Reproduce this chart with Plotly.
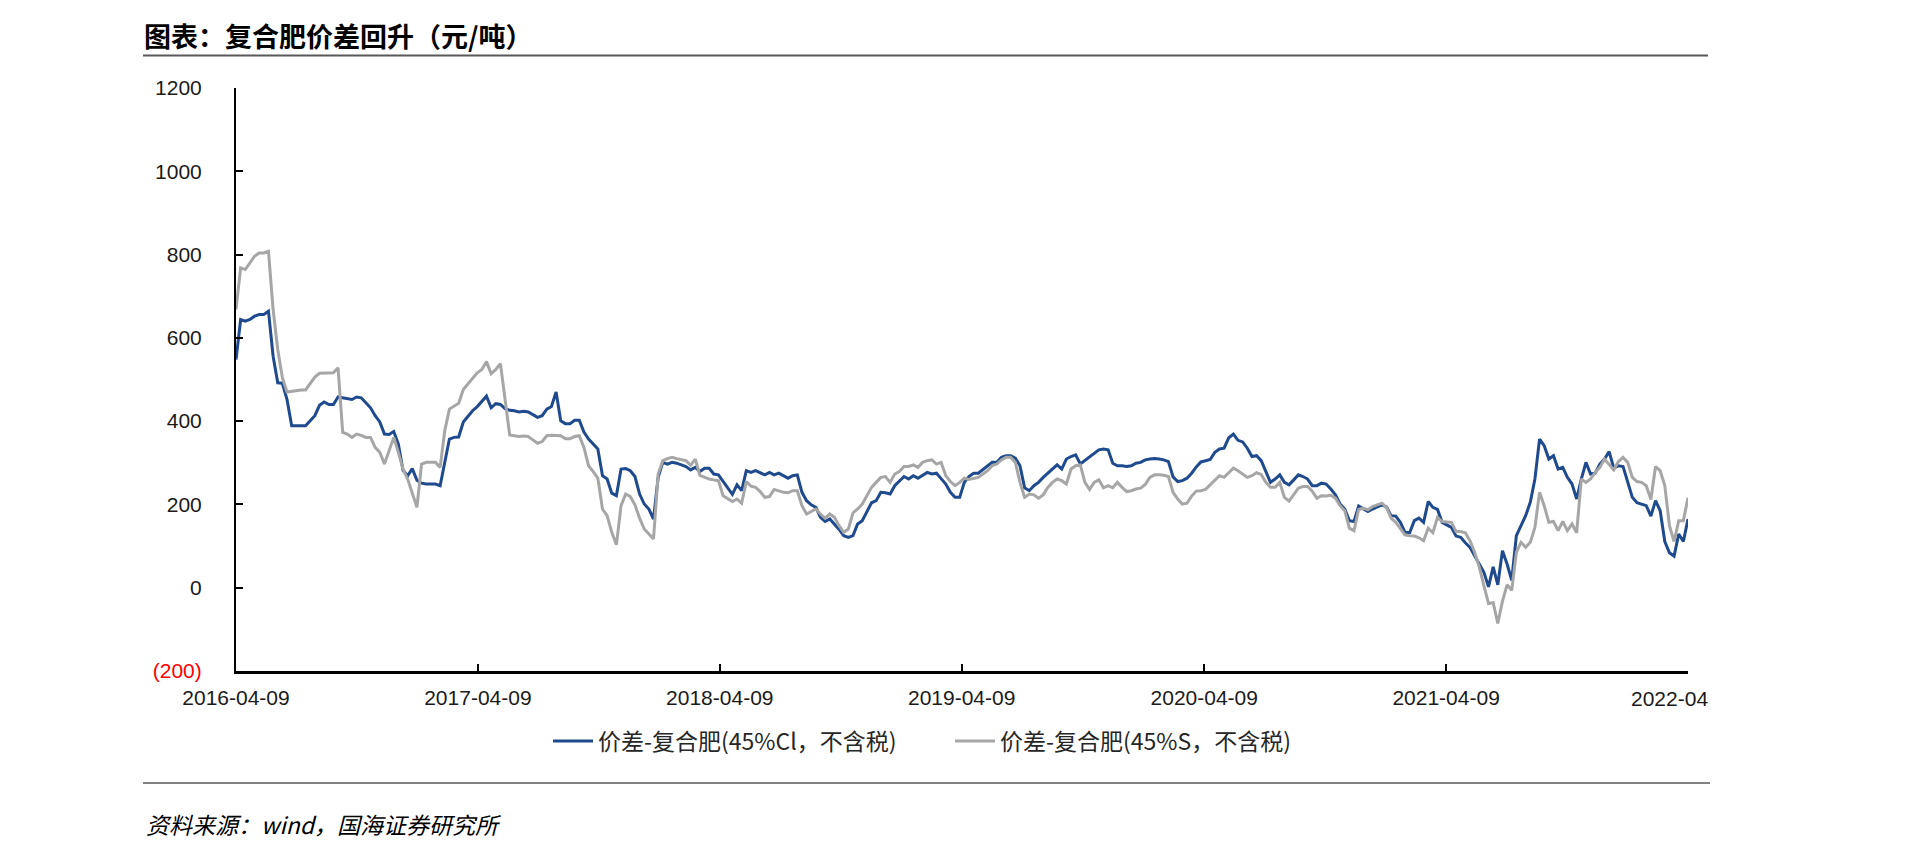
import pandas as pd
import plotly.graph_objects as go

# Weekly observations starting 2016-04-09 (314 weeks, ending 2022-04-09)
start_date = "2016-04-09"

spread_cl = [
    548, 644, 640, 644, 652, 656, 656, 664, 556, 492,
    491, 452, 389, 389, 389, 389, 401, 413, 438, 446,
    440, 440, 458, 456, 454, 452, 458, 456, 444, 432,
    413, 398, 369, 368, 375, 345, 282, 269, 286, 258,
    251, 249, 249, 249, 245, 301, 357, 361, 362, 398,
    411, 425, 435, 447, 460, 432, 442, 440, 430, 426,
    425, 422, 424, 422, 416, 409, 413, 429, 435, 470,
    401, 394, 394, 402, 402, 374, 357, 345, 333, 269,
    261, 227, 221, 285, 286, 281, 267, 225, 201, 189,
    165, 265, 301, 297, 301, 299, 295, 291, 283, 289,
    279, 287, 287, 273, 271, 255, 237, 224, 247, 233,
    281, 277, 281, 275, 271, 277, 271, 275, 269, 263,
    269, 271, 229, 209, 199, 193, 169, 159, 165, 153,
    140, 125, 121, 125, 153, 161, 183, 204, 209, 229,
    228, 225, 245, 255, 267, 261, 269, 263, 269, 277,
    273, 275, 262, 249, 229, 217, 217, 253, 267, 275,
    275, 283, 291, 301, 301, 313, 317, 317, 311, 293,
    240, 233, 245, 253, 265, 275, 285, 295, 285, 309,
    315, 319, 297, 305, 315, 323, 331, 333, 331, 299,
    293, 293, 291, 293, 299, 301, 307, 309, 310, 309,
    307, 303, 266, 255, 257, 263, 275, 290, 302, 305,
    308, 325, 333, 335, 360, 369, 354, 350, 335, 315,
    317, 305, 281, 253, 261, 271, 253, 247, 259, 271,
    267, 261, 245, 245, 251, 249, 237, 223, 201, 189,
    161, 159, 196, 189, 183, 189, 194, 199, 194, 173,
    172, 157, 133, 132, 161, 167, 157, 207, 193, 188,
    157, 151, 145, 124, 121, 108, 97, 77, 57, 37,
    2, 50, 7, 89, 57, 18, 125, 149, 173, 205,
    261, 357, 341, 309, 317, 285, 289, 265, 249, 213,
    261, 301, 273, 275, 297, 309, 327, 287, 293, 291,
    253, 217, 204, 201, 197, 172, 209, 185, 111, 84,
    76, 129, 111, 165,
]

spread_s = [
    668, 768, 764, 780, 796, 804, 804, 808, 668, 572,
    504, 470, 472, 474, 475, 475, 490, 506, 515, 515,
    516, 516, 528, 373, 369, 361, 369, 366, 361, 361,
    337, 325, 297, 329, 361, 325, 285, 261, 229, 193,
    297, 301, 301, 301, 289, 377, 429, 437, 443, 476,
    490, 504, 516, 524, 543, 514, 524, 538, 452, 367,
    365, 363, 364, 363, 355, 347, 351, 365, 366, 366,
    365, 358, 358, 363, 365, 337, 293, 279, 263, 189,
    173, 133, 103, 197, 225, 219, 199, 167, 141, 129,
    117, 273, 305, 310, 313, 310, 307, 305, 294, 309,
    270, 265, 261, 259, 257, 221, 213, 207, 213, 203,
    255, 244, 241, 231, 217, 219, 236, 233, 229, 228,
    233, 233, 197, 177, 183, 189, 177, 167, 177, 169,
    149, 133, 141, 180, 189, 201, 221, 241, 253, 265,
    267, 253, 273, 279, 291, 291, 295, 289, 301, 305,
    307, 297, 301, 269, 255, 245, 253, 263, 260, 263,
    265, 273, 281, 293, 297, 307, 313, 313, 301, 253,
    217, 225, 223, 215, 223, 241, 253, 261, 257, 249,
    285, 293, 295, 253, 236, 253, 259, 240, 245, 240,
    253, 241, 231, 233, 237, 239, 248, 265, 271, 271,
    270, 267, 229, 213, 201, 203, 220, 232, 233, 236,
    247, 260, 269, 265, 277, 287, 281, 273, 265, 269,
    276, 272, 253, 241, 241, 253, 217, 208, 225, 239,
    243, 243, 232, 215, 221, 220, 222, 215, 197, 185,
    143, 137, 188, 191, 187, 195, 199, 203, 193, 167,
    157, 141, 127, 125, 124, 120, 113, 143, 132, 169,
    159, 158, 157, 135, 135, 132, 113, 85, 50, 5,
    -38, -36, -86, -33, 7, -6, 85, 109, 97, 109,
    145, 229, 197, 157, 159, 137, 159, 137, 153, 132,
    261, 253, 261, 277, 289, 309, 296, 283, 303, 313,
    301, 265, 255, 253, 245, 212, 291, 281, 245, 149,
    111, 161, 161, 216,
]

name_cl = "价差-复合肥(45%Cl，不含税)"
name_s = "价差-复合肥(45%S，不含税)"

x_tick_dates = ["2016-04-09", "2017-04-09", "2018-04-09", "2019-04-09",
                "2020-04-09", "2021-04-09", "2022-04-09"]
x_tick_text = ["2016-04-09", "2017-04-09", "2018-04-09", "2019-04-09",
               "2020-04-09", "2021-04-09", ""]
last_tick_label = "2022-04"

y_tick_vals = [-200, 0, 200, 400, 600, 800, 1000, 1200]
y_tick_text = ['<span style="color:#FF0000">(200)</span>', "0", "200", "400",
               "600", "800", "1000", "1200"]

title_text = "图表：复合肥价差回升（元/吨）"
source_text = "资料来源：wind，国海证券研究所"

dates = pd.date_range(start=start_date, periods=len(spread_cl), freq="7D")

W, H = 1920, 857
L, R, T, B = 236, 232, 88, 186
PW, PH = W - L - R, H - T - B


def px_x(p):
    return (p - L) / PW


def px_y(p):
    return (H - B - p) / PH


fig = go.Figure()
fig.add_trace(go.Scatter(x=dates, y=spread_cl, mode="lines", name=name_cl,
                         line=dict(color="#1F4A8E", width=3)))
fig.add_trace(go.Scatter(x=dates, y=spread_s, mode="lines", name=name_s,
                         line=dict(color="#A6A6A6", width=3)))

tick_font = dict(family="Liberation Sans, Arial, sans-serif", size=21, color="#1a1a1a")

fig.update_layout(
    width=W, height=H,
    margin=dict(l=L, r=R, t=T, b=B, pad=0),
    paper_bgcolor="white", plot_bgcolor="white",
    showlegend=True,
    legend=dict(orientation="h", x=px_x(548), y=px_y(741), xanchor="left", yanchor="middle",
                font=dict(family="Noto Sans CJK SC", size=23, color="#262626"),
                entrywidth=347, entrywidthmode="pixels", itemwidth=40,
                bgcolor="rgba(0,0,0,0)"),
    xaxis=dict(type="date", range=[dates[0], pd.Timestamp("2022-04-09")],
               tickmode="array", tickvals=x_tick_dates, ticktext=x_tick_text,
               ticks="inside", ticklen=7, tickwidth=2, tickcolor="#000",
               showline=True, linecolor="#000", linewidth=2.5,
               showgrid=False, zeroline=False, tickfont=tick_font,
               ticklabelstandoff=6),
    yaxis=dict(range=[-200, 1200], tickmode="array", tickvals=y_tick_vals,
               ticktext=y_tick_text, ticks="inside", ticklen=7, tickwidth=1.5,
               tickcolor="#000", showline=True, linecolor="#000", linewidth=2,
               showgrid=False, zeroline=False, tickfont=tick_font,
               ticklabelstandoff=28),
)

fig.add_annotation(x="2022-04-09", y=px_y(698), xref="x", yref="paper",
                   text=last_tick_label, showarrow=False, xanchor="right",
                   yanchor="middle", xshift=22, font=tick_font)

fig.add_annotation(x=px_x(142), y=px_y(35), xref="paper", yref="paper",
                   text="<b>" + title_text + "</b>", showarrow=False,
                   xanchor="left", yanchor="middle",
                   font=dict(family="Noto Sans CJK SC", size=27, color="#000"))

fig.add_annotation(x=px_x(144), y=px_y(824), xref="paper", yref="paper",
                   text=source_text, showarrow=False, xanchor="left",
                   yanchor="middle",
                   font=dict(family="Noto Sans CJK SC", size=23, color="#000",
                             style="italic"))

fig.add_shape(type="line", xref="paper", yref="paper",
              x0=px_x(143), x1=px_x(1708), y0=px_y(55.5), y1=px_y(55.5),
              line=dict(color="#595959", width=2))
fig.add_shape(type="line", xref="paper", yref="paper",
              x0=px_x(143), x1=px_x(1710), y0=px_y(783), y1=px_y(783),
              line=dict(color="#595959", width=1.5))

fig.write_html("out.html", config={"displayModeBar": False},
               post_script="document.body.style.margin='0px';")
